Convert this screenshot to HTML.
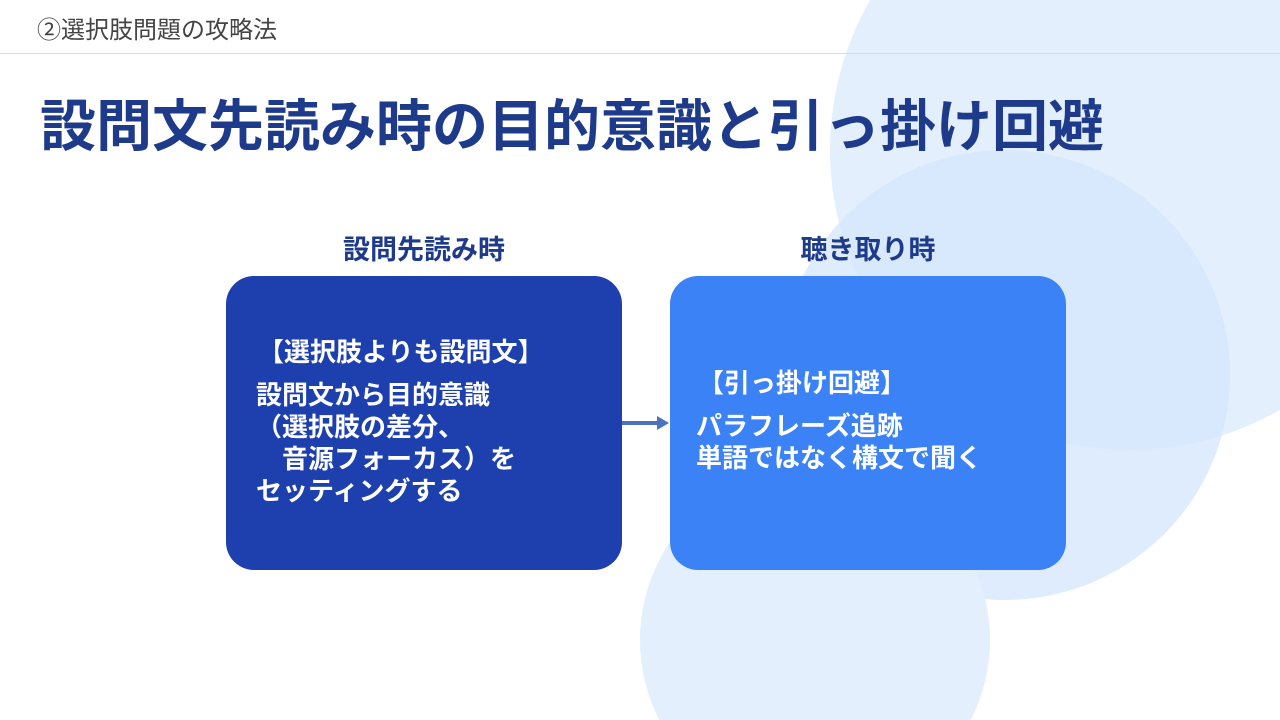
<!DOCTYPE html>
<html><head><meta charset="utf-8"><style>
html,body{margin:0;width:1280px;height:720px;overflow:hidden;}
body{background:#fff;font-family:"Liberation Sans","Noto Sans CJK JP",sans-serif;}
#w{position:relative;width:1280px;height:720px;overflow:hidden;}
.t{position:absolute;white-space:nowrap;}
.box{position:absolute;border-radius:28px;color:#fff;font-weight:bold;font-size:26px;line-height:32px;overflow:hidden;}
</style></head><body><div id="w">
<svg style="position:absolute;left:0;top:0" width="1280" height="720" viewBox="0 0 1280 720">
<circle cx="1130" cy="150" r="300" fill="#e3effd"/>
<circle cx="1005" cy="375" r="225" fill="#d6e7fc" fill-opacity="0.8"/>
<circle cx="815" cy="640" r="175" fill="#e3effd"/>
</svg>
<div class="t" style="left:37px;top:10px;font-size:24px;color:#444;">②選択肢問題の攻略法</div>
<div style="position:absolute;left:0;top:53px;width:1280px;height:1px;background:#d8dbe0"></div>
<div class="t" style="left:40px;top:82px;font-size:56px;font-weight:bold;color:#1e3a8a;">設問文先読み時の目的意識と引っ掛け回避</div>
<div class="t" style="left:226px;width:396px;text-align:center;top:228px;font-size:27px;font-weight:bold;color:#1e3a8a;">設問先読み時</div>
<div class="t" style="left:670px;width:396px;text-align:center;top:228px;font-size:27px;font-weight:bold;color:#1e3a8a;">聴き取り時</div>
<div class="box" style="left:226px;top:276px;width:396px;height:294px;background:#1e40af;">
<div class="t" style="left:32px;top:60px;">【選択肢よりも設問文】</div>
<div class="t" style="left:30px;top:103px;">設問文から目的意識<br>（選択肢の差分、<br>　音源フォーカス）を<br>セッティングする</div>
</div>
<div style="position:absolute;left:622px;top:421px;width:36px;height:4px;background:#4a72c0"></div>
<div style="position:absolute;left:657px;top:416px;width:0;height:0;border-left:12px solid #4a72c0;border-top:7px solid transparent;border-bottom:7px solid transparent"></div>
<div class="box" style="left:670px;top:276px;width:396px;height:294px;background:#3b82f6;">
<div class="t" style="left:28px;top:91px;">【引っ掛け回避】</div>
<div class="t" style="left:26px;top:134px;">パラフレーズ追跡<br>単語ではなく構文で聞く</div>
</div>
</div></body></html>
